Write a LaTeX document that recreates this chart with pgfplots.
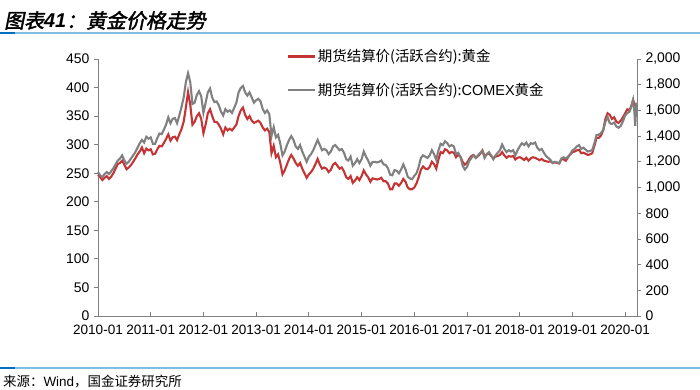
\documentclass[border=0pt]{standalone}
\usepackage{pgfplots}
\usepackage{pgfplotstable}
\pgfplotsset{compat=1.18}
\usepackage{fontspec}
\setmainfont{Liberation Sans}
\newfontfamily\cjk{Noto Sans CJK SC}
\newfontfamily\cjkbi{Noto Sans CJK SC}[FakeSlant=0.2,FakeBold=2]
\definecolor{sred}{RGB}{196,52,52}
\definecolor{sgray}{RGB}{128,128,128}
\definecolor{lblue}{RGB}{130,190,228}
\definecolor{dblue}{RGB}{0,112,192}

% month index since 2010-01 ; SHFE gold (yuan/g)
\pgfplotstableread{
t v
0 248
0.5 243
1 238
1.5 242
2 245
2.5 240
3 244
3.5 250
4 258
4.5 266
5 268
5.5 272
6 265
6.5 257
7 260
7.5 264
8 270
8.5 276
9 283
9.5 288
10 295
10.5 285
11 293
11.5 290
12 292
12.5 283
13 284
13.5 292
14 298
14.5 297
15 303
15.5 310
16 318
16.5 307
17 313
17.5 314
18 308
18.5 318
19 327
19.5 340
20 365
20.5 392
21 370
21.5 335
22 340
22.5 350
23 355
23.5 345
24 320
24.5 335
25 355
25.5 362
26 350
26.5 340
27 340
27.5 335
28 328
28.5 318
29 330
29.5 325
30 328
30.5 325
31 330
31.5 335
32 350
32.5 360
33 365
33.5 352
34 345
34.5 350
35 342
35.5 338
36 340
36.5 342
37 338
37.5 330
38 325
38.5 328
39 322
39.5 285
40 298
40.5 278
41 283
41.5 268
42 248
42.5 255
43 265
43.5 275
44 282
44.5 276
45 268
45.5 263
46 268
46.5 258
47 250
47.5 242
48 248
48.5 252
49 258
49.5 266
50 275
50.5 265
51 258
51.5 260
52 258
52.5 252
53 256
53.5 265
54 268
54.5 263
55 258
55.5 260
56 253
56.5 243
57 240
57.5 245
58 233
58.5 237
59 243
59.5 238
60 245
60.5 255
61 248
61.5 243
62 235
62.5 241
63 240
63.5 239
64 240
64.5 242
65 236
65.5 236
66 232
66.5 222
67 222
67.5 232
68 232
68.5 228
69 233
69.5 240
70 235
70.5 225
71 222
71.5 222
72 225
72.5 232
73 243
73.5 256
74 262
74.5 258
75 257
75.5 261
76 270
76.5 266
77 258
77.5 274
78 287
78.5 285
79 292
79.5 290
80 285
80.5 287
81 286
81.5 278
82 282
82.5 279
83 270
83.5 265
84 268
84.5 275
85 280
85.5 282
86 277
86.5 280
87 284
87.5 290
88 280
88.5 283
89 285
89.5 280
90 276
90.5 279
91 280
91.5 282
92 287
92.5 281
93 277
93.5 280
94 279
94.5 280
95 274
95.5 277
96 278
96.5 276
97 273
97.5 277
98 272
98.5 276
99 278
99.5 277
100 275
100.5 273
101 275
101.5 272
102 271
102.5 270
103 271
103.5 268
104 269
104.5 268
105 267
105.5 275
106 274
106.5 272
107 278
107.5 283
108 287
108.5 288
109 290
109.5 291
110 285
110.5 286
111 284
111.5 282
112 283
112.5 285
113 298
113.5 312
114 312
114.5 316
115 325
115.5 345
116 355
116.5 352
117 345
117.5 348
118 340
118.5 338
119 342
119.5 348
120 355
120.5 362
121 360
121.5 370
121.8 378
122.1 372
122.3 355
122.5 368
122.6 372
}\shfe

% COMEX gold (USD/oz)
\pgfplotstableread{
t v
0 1120
0.5 1095
1 1080
1.5 1105
2 1120
2.5 1105
3 1125
3.5 1150
4 1180
4.5 1210
5 1225
5.5 1250
6 1210
6.5 1185
7 1200
7.5 1225
8 1250
8.5 1275
9 1310
9.5 1345
10 1370
10.5 1350
11 1395
11.5 1380
12 1390
12.5 1340
13 1340
13.5 1385
14 1420
14.5 1415
15 1450
15.5 1490
16 1545
16.5 1500
17 1535
17.5 1540
18 1500
18.5 1560
19 1625
19.5 1700
20 1820
20.5 1890
21 1820
21.5 1650
22 1660
22.5 1720
23 1750
23.5 1710
24 1580
24.5 1660
25 1740
25.5 1770
26 1700
26.5 1665
27 1670
27.5 1640
28 1590
28.5 1560
29 1610
29.5 1590
30 1600
30.5 1580
31 1620
31.5 1660
32 1740
32.5 1775
33 1790
33.5 1740
34 1715
34.5 1740
35 1700
35.5 1660
36 1680
36.5 1690
37 1670
37.5 1610
38 1580
38.5 1600
39 1570
39.5 1400
40 1470
40.5 1390
41 1410
41.5 1340
42 1250
42.5 1280
43 1330
43.5 1370
44 1400
44.5 1370
45 1320
45.5 1300
46 1330
46.5 1280
47 1240
47.5 1200
48 1240
48.5 1260
49 1290
49.5 1330
50 1370
50.5 1330
51 1290
51.5 1300
52 1290
52.5 1260
53 1280
53.5 1320
54 1330
54.5 1310
55 1290
55.5 1300
56 1270
56.5 1220
57 1210
57.5 1240
58 1170
58.5 1190
59 1220
59.5 1190
60 1220
60.5 1280
61 1240
61.5 1210
62 1170
62.5 1200
63 1200
63.5 1195
64 1200
64.5 1210
65 1180
65.5 1175
66 1150
66.5 1100
67 1095
67.5 1135
68 1130
68.5 1110
69 1140
69.5 1180
70 1140
70.5 1085
71 1070
71.5 1065
72 1090
72.5 1110
73 1160
73.5 1230
74 1250
74.5 1240
75 1230
75.5 1250
76 1290
76.5 1260
77 1215
77.5 1290
78 1340
78.5 1330
79 1360
79.5 1345
80 1320
80.5 1330
81 1320
81.5 1260
82 1270
82.5 1240
83 1170
83.5 1140
84 1160
84.5 1205
85 1230
85.5 1250
86 1230
86.5 1250
87 1270
87.5 1285
88 1230
88.5 1260
89 1275
89.5 1250
90 1220
90.5 1250
91 1270
91.5 1290
92 1335
92.5 1300
93 1275
93.5 1290
94 1280
94.5 1290
95 1250
95.5 1290
96 1320
96.5 1345
97 1330
97.5 1350
98 1320
98.5 1345
99 1340
99.5 1350
100 1310
100.5 1290
101 1300
101.5 1270
102 1245
102.5 1230
103 1215
103.5 1190
104 1200
104.5 1195
105 1190
105.5 1225
106 1235
106.5 1225
107 1240
107.5 1260
108 1290
108.5 1300
109 1320
109.5 1330
110 1300
110.5 1310
111 1295
111.5 1280
112 1285
112.5 1290
113 1345
113.5 1410
114 1410
114.5 1425
115 1445
115.5 1510
116 1550
116.5 1500
117 1495
117.5 1505
118 1475
118.5 1465
119 1480
119.5 1515
120 1560
120.5 1580
121 1590
121.5 1640
121.8 1680
122.1 1590
122.3 1480
122.5 1620
122.6 1660
}\comex

\begin{document}
\begin{tikzpicture}
\useasboundingbox (0,0) rectangle (700bp,390bp);
\fill[white] (0,0) rectangle (700bp,390bp);
% title and rules
\node[anchor=base west,inner sep=0pt] at (4bp,362bp) {\fontsize{20}{22}\selectfont{\cjkbi 图表}\textbf{\textit{41}}{\cjkbi ：黄金价格走势}};
\draw[lblue,line width=1.5pt] (0,357bp) -- (700bp,357bp);
\draw[dblue,line width=1.5pt] (0,357bp) -- (15bp,357bp);
\draw[lblue,line width=1.2pt] (0,22bp) -- (700bp,22bp);
\draw[dblue,line width=1.2pt] (0,22bp) -- (15bp,22bp);
\node[anchor=base west,inner sep=0pt] at (3bp,4bp) {\fontsize{13.5}{15}\selectfont{\cjk 来源：}Wind{\cjk ，国金证券研究所}};

\pgfplotsset{
  common/.style={
    at={(98bp,74bp)}, anchor=south west,
    scale only axis, width=539bp, height=257bp,
    xmin=0, xmax=122.7,
    axis line style={sgray,line width=0.9pt},
    tick style={sgray,line width=0.8pt},
    major tick length=4bp,
    tick label style={font=\fontsize{14}{15}\selectfont, black},
    /pgf/number format/assume math mode=true,
    clip=false,
  }
}

\begin{axis}[common,
  axis y line*=left, axis x line*=bottom,
  ymin=0, ymax=450, ytick={0,50,...,450},
  xtick={0,12,...,120},
  xticklabels={2010-01,2011-01,2012-01,2013-01,2014-01,2015-01,2016-01,2017-01,2018-01,2019-01,2020-01},
  x tick style={sgray}, xtick align=inside,
  ytick align=outside,
  xticklabel style={yshift=-5.5bp, font=\fontsize{13.6}{15}\selectfont},
  yticklabel style={xshift=-1bp},
]
\addplot[sred, line width=2.1pt] table[x=t,y=v] {\shfe};
\end{axis}

\begin{axis}[common,
  axis y line*=right, axis x line=none,
  ymin=0, ymax=2000, ytick={0,200,...,2000},
  ytick align=outside,
  yticklabel style={xshift=1bp},
  /pgf/number format/1000 sep={,},
  legend style={draw=none, fill=none, at={(0.35,1.045)}, anchor=north west,
    font=\fontsize{14.5}{16}\selectfont, row sep=16bp, inner sep=0pt},
  legend cell align=left,
  legend image code/.code={\draw[#1] (0bp,0bp) -- (27bp,0bp);},
]
\addlegendimage{sred, line width=2.1pt}
\addlegendentry{{\cjk 期货结算价(活跃合约):黄金}}
\addplot[sgray, line width=2.1pt] table[x=t,y=v] {\comex};
\addlegendentry{{\cjk 期货结算价(活跃合约):}COMEX{\cjk 黄金}}
\end{axis}
\end{tikzpicture}
\end{document}
